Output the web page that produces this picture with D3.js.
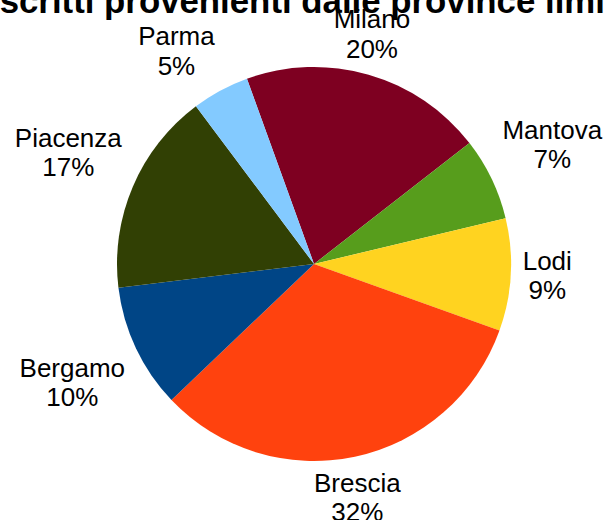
<!DOCTYPE html>
<html>
<head>
<meta charset="utf-8">
<script src="https://cdn.jsdelivr.net/npm/d3@7"></script>
<style>
  html, body { margin: 0; padding: 0; background: #fff; }
  svg { display: block; font-family: "Liberation Sans", Arial, sans-serif; }
</style>
</head>
<body>
<div id="chart"></div>
<script>
// province data (share of enrolled students, %)
var provinces = ["Milano", "Mantova", "Lodi", "Brescia", "Bergamo", "Piacenza", "Parma"];
var shares = [20.0, 6.8, 9.2, 32.4, 10.2, 16.7, 4.7];
var colors = ["#7e0021", "#579d1c", "#ffd320", "#ff420e", "#004586", "#314004", "#83caff"];
var title = "Iscritti provenienti dalle province limitrofe";

var width = 607, height = 520;
var cx = 314, cy = 264, radius = 197;
var fontSize = 26, lineGap = 29.5;

var svg = d3.select("#chart").append("svg")
    .attr("width", width)
    .attr("height", height);

var data = provinces.map(function (p, i) {
    return { name: p, value: shares[i], color: colors[i] };
});

var rot = -19.9 * Math.PI / 180;
var pie = d3.pie()
    .sort(null)
    .value(function (d) { return d.value; })
    .startAngle(rot)
    .endAngle(rot + 2 * Math.PI);

var arc = d3.arc().innerRadius(0).outerRadius(radius);

var g = svg.append("g").attr("transform", "translate(" + cx + "," + cy + ")");

var arcs = pie(data);

g.selectAll("path")
    .data(arcs)
    .enter().append("path")
    .attr("d", arc)
    .attr("fill", function (d) { return d.data.color; });

// labels: anchor on the mid-angle ray, box aligned by 45 degree sector
var labelR = radius + 12;
var lim = Math.sin(Math.PI / 8);

arcs.forEach(function (d) {
    var a = (d.startAngle + d.endAngle) / 2;
    var s = Math.sin(a), c = Math.cos(a);
    var px = labelR * s, py = -labelR * c;

    var t = g.append("text")
        .attr("text-anchor", "middle")
        .style("font-size", fontSize + "px")
        .style("fill", "#000");
    var l1 = t.append("tspan").text(d.data.name);
    var l2 = t.append("tspan").text(Math.round(d.data.value) + "%");

    var w = Math.max(l1.node().getComputedTextLength(), l2.node().getComputedTextLength());
    var h = lineGap + (0.905 + 0.212) * fontSize;

    var hx = s > lim ? 1 : (s < -lim ? -1 : 0);
    var vy = c > lim ? -1 : (c < -lim ? 1 : 0);

    var bx = px + hx * w / 2;
    var by = py + vy * h / 2;
    var b1 = by - (lineGap + 0.212 * fontSize - 0.905 * fontSize) / 2;

    l1.attr("x", bx).attr("y", b1);
    l2.attr("x", bx).attr("y", b1 + lineGap);
});

// title (cut by the top edge, as in the original)
svg.append("text")
    .attr("x", -10)
    .attr("y", 12.5)
    .style("font-size", "34.8px")
    .style("font-weight", "bold")
    .style("fill", "#000")
    .text(title);
</script>
</body>
</html>
